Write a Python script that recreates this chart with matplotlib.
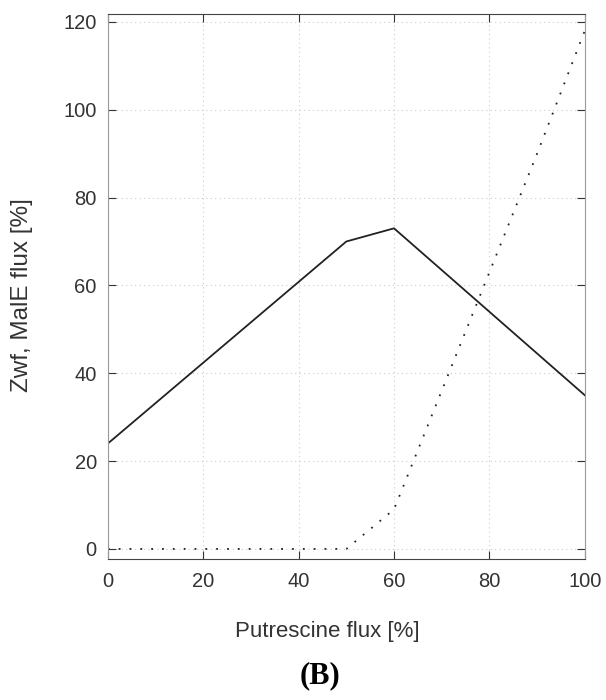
import matplotlib
matplotlib.use("Agg")
import matplotlib.pyplot as plt

# data
putrescine = [0, 10, 20, 30, 40, 50, 60, 70, 80, 90, 100]
zwf_flux = [24, 33.2, 42.4, 51.6, 60.8, 70, 73, 63.5, 54, 44.5, 35]
male_flux = [0, 0, 0, 0, 0, 0, 9, 36, 63, 90, 118]

xticks = [0, 20, 40, 60, 80, 100]
yticks = [0, 20, 40, 60, 80, 100, 120]

plt.rcParams['font.family'] = ['Liberation Sans', 'DejaVu Sans']

fig = plt.figure(figsize=(6.06, 7.0), dpi=100)
ax = fig.add_axes([0.178, 0.2014, 0.787, 0.7786])

ax.plot(putrescine, zwf_flux, color='#222222', lw=1.3)
ax.plot(putrescine, male_flux, color='#222222', lw=1.3, linestyle=(0, (1, 5)))

ax.set_xlim(0, 100)
ax.set_ylim(-2.3, 121.8)
ax.set_xticks(xticks)
ax.set_yticks(yticks)
ax.tick_params(direction='in', length=6, width=0.8, top=True, right=True,
               labelsize=14.5, colors='#333333')
ax.tick_params(axis='x', pad=9)
ax.tick_params(axis='y', pad=8)
ax.grid(True, linestyle=(0, (1, 3)), color='#cccccc', lw=0.8)

for side in ['top', 'bottom']:
    ax.spines[side].set_color('#444444')
for side in ['left', 'right']:
    ax.spines[side].set_color('#999999')

ax.set_xlabel('Putrescine flux [%]', fontsize=16, color='#333333')
ax.set_ylabel('Zwf, MalE flux [%]', fontsize=17.5, color='#333333')
ax.xaxis.set_label_coords(0.461, -0.113)
ax.yaxis.set_label_coords(-0.157, 0.484)

fig.text(0.528, 0.034, '(B)', fontsize=22, fontweight='bold',
         family='Liberation Serif', ha='center', va='center')

fig.savefig('out.png', dpi=100)
